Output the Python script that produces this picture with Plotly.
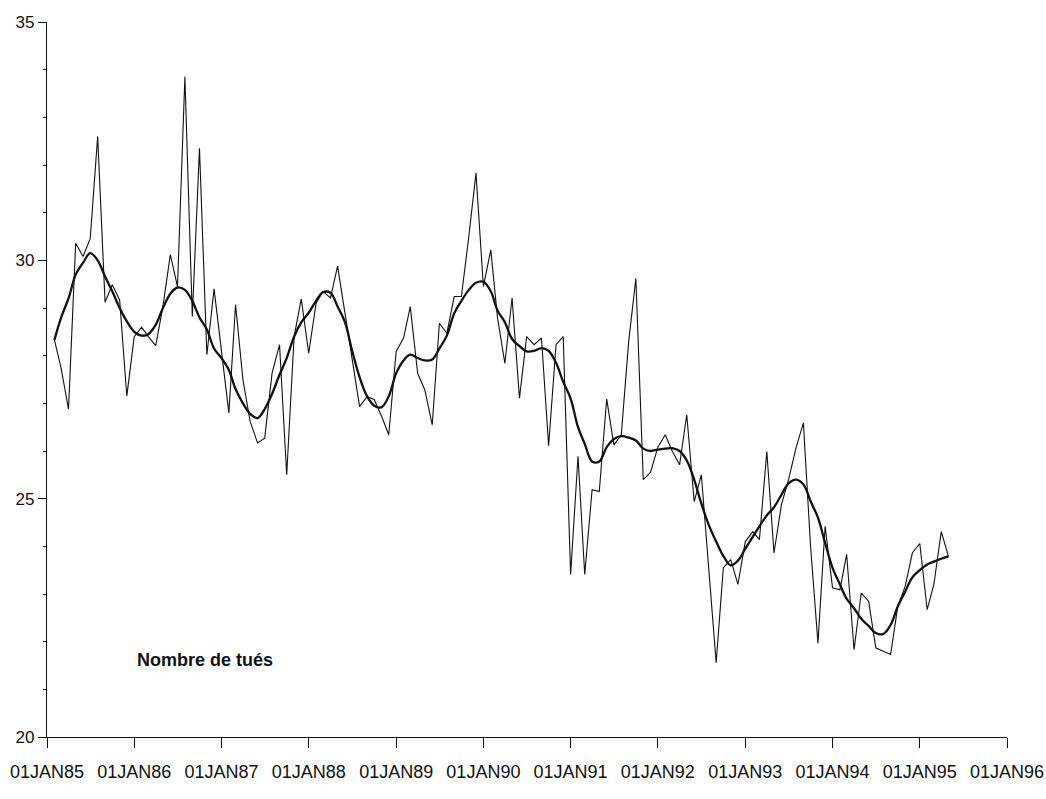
import pandas as pd
import plotly.graph_objects as go

# Monthly number of people killed (raw series), from February 1985
tues = [
    28.33, 27.74, 26.88, 30.36, 30.08, 30.46, 32.60, 29.12, 29.49, 29.17, 27.15,
    28.40, 28.60, 28.40, 28.21, 29.03, 30.12, 29.45, 33.85, 28.82, 32.35, 28.02, 29.40,
    28.10, 26.80, 29.07, 27.49, 26.62, 26.17, 26.27, 27.64, 28.23, 25.50, 28.40, 29.19,
    28.05, 29.10, 29.35, 29.21, 29.88, 28.90, 27.90, 26.93, 27.14, 27.08, 26.73, 26.34,
    28.09, 28.37, 29.03, 27.63, 27.28, 26.55, 28.68, 28.47, 29.24, 29.24, 30.50, 31.83,
    29.45, 30.22, 28.80, 27.84, 29.21, 27.11, 28.40, 28.23, 28.37, 26.11, 28.23, 28.40,
    23.41, 25.89, 23.41, 25.19, 25.15, 27.09, 26.13, 26.34, 28.30, 29.62, 25.40, 25.55,
    26.08, 26.34, 26.00, 25.71, 26.76, 24.94, 25.50, 23.50, 21.56, 23.55, 23.72, 23.20,
    24.10, 24.31, 24.14, 25.99, 23.86, 24.87, 25.40, 26.06, 26.59, 24.00, 21.97, 24.42,
    23.13, 23.09, 23.83, 21.83, 23.02, 22.85, 21.87, 21.80, 21.73, 22.74, 23.16, 23.86,
    24.06, 22.67, 23.20, 24.31, 23.79,
]

# Smoothed trend of the same series
tendance = [
    28.33, 28.80, 29.20, 29.70, 29.95, 30.15, 30.00, 29.66, 29.35, 29.00, 28.72,
    28.50, 28.42, 28.45, 28.65, 29.00, 29.30, 29.43, 29.38, 29.15, 28.80, 28.55, 28.15,
    27.95, 27.70, 27.30, 27.00, 26.78, 26.69, 26.88, 27.20, 27.60, 27.95, 28.40, 28.70,
    28.90, 29.15, 29.33, 29.32, 29.03, 28.70, 28.10, 27.55, 27.15, 26.95, 26.92, 27.15,
    27.63, 27.90, 28.02, 27.95, 27.90, 27.92, 28.15, 28.42, 28.89, 29.15, 29.38, 29.53,
    29.55, 29.35, 28.95, 28.70, 28.35, 28.20, 28.09, 28.10, 28.16, 28.10, 27.85, 27.45,
    27.10, 26.50, 26.15, 25.78, 25.78, 26.08, 26.25, 26.31, 26.28, 26.22, 26.05, 26.00,
    26.03, 26.05, 26.06, 26.00, 25.80, 25.40, 24.90, 24.45, 24.10, 23.80, 23.60, 23.70,
    23.95, 24.20, 24.42, 24.65, 24.82, 25.08, 25.32, 25.40, 25.30, 24.95, 24.60, 24.07,
    23.55, 23.20, 22.90, 22.70, 22.48, 22.33, 22.18, 22.16, 22.35, 22.74, 23.05, 23.35,
    23.50, 23.62, 23.68, 23.74, 23.79,
]

mois = pd.date_range("1985-02-01", periods=len(tues), freq="MS")

# Axis ticks
annees = list(range(1985, 1997))
tick_vals = [f"{a}-01-01" for a in annees]
tick_text = [f"01JAN{str(a)[2:]}" for a in annees]
y_ticks = [20, 25, 30, 35]

font_axes = "Liberation Sans Narrow, Arial Narrow, sans-serif"

fig = go.Figure()
fig.add_trace(go.Scatter(
    x=mois, y=tues, mode="lines",
    line=dict(color="#111111", width=1.1),
    showlegend=False,
))
fig.add_trace(go.Scatter(
    x=mois, y=tendance, mode="lines", line_shape="spline",
    line=dict(color="#111111", width=2.3),
    showlegend=False,
))

fig.add_annotation(
    x="1986-01-05", y=21.62, xref="x", yref="y",
    text="<b>Nombre de tués</b>", showarrow=False,
    xanchor="left", yanchor="middle",
    font=dict(family="Liberation Sans, Arial, sans-serif", size=18, color="#111111"),
)

fig.update_xaxes(
    range=["1985-01-01", "1996-01-01"],
    tickmode="array", tickvals=tick_vals, ticktext=tick_text,
    ticks="outside", ticklen=10, tickwidth=1, tickcolor="#111111",
    ticklabelstandoff=8, ticklabeloverflow="allow",
    showline=True, linecolor="#111111", linewidth=1.2,
    showgrid=False, zeroline=False, automargin=False,
    tickfont=dict(family=font_axes, size=18, color="#111111"),
)
fig.update_yaxes(
    range=[20, 35],
    tickmode="array", tickvals=y_ticks,
    ticks="outside", ticklen=8, tickwidth=1, tickcolor="#111111",
    minor=dict(dtick=1, ticks="outside", ticklen=3, tickcolor="#111111"),
    showline=True, linecolor="#111111", linewidth=1.2,
    showgrid=False, zeroline=False, automargin=False,
    tickfont=dict(family=font_axes, size=17, color="#111111"),
)

fig.update_layout(
    width=1046, height=799,
    margin=dict(l=47, r=39, t=22, b=62),
    paper_bgcolor="white", plot_bgcolor="white",
)

fig.write_html("out.html")
